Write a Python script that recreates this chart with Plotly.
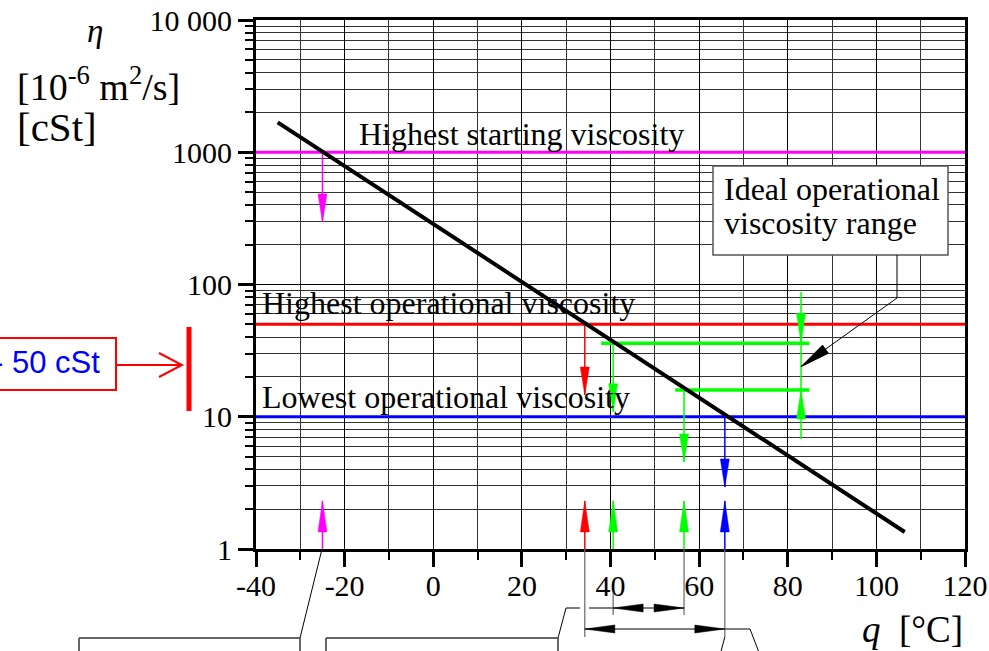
import math
import plotly.graph_objects as go

# ---------------- data ----------------
temp_range = [-40, 120]
temp_major_ticks = [-40, -20, 0, 20, 40, 60, 80, 100, 120]
temp_tick_labels = ["-40", "-20", "0", "20", "40", "60", "80", "100", "120"]
temp_minor_ticks = [-30, -10, 10, 30, 50, 70, 90, 110]

visc_major_ticks = [1, 10, 100, 1000, 10000]
visc_tick_labels = ["1", "10", "100", "1000", "10 000"]
visc_minor_ticks = [m * 10 ** d for d in range(4) for m in range(2, 10)]

curve_temp = [-35.1, 106.4]
curve_visc = [1684, 1.345]

limit_visc = [1000, 50, 10]
limit_names = ["Highest starting viscosity", "Highest operational viscosity",
               "Lowest operational viscosity"]
limit_colors = ["#ff00ff", "#ff0000", "#0000ff"]

ideal_visc = [35.9, 15.94]
ideal_temp_from = [37.9, 54.6]
ideal_temp_to = [84.9, 84.9]

drop_temp = [-25.0, 34.2, 40.6, 56.6, 65.8]
drop_from = [1000, 50, 35.9, 15.94, 10]
drop_tip = [297, 14.6, 10.9, 4.55, 2.94]
drop_colors = ["#ff00ff", "#ff0000", "#00ff00", "#00ff00", "#0000ff"]
rise_tip_visc = 2.31

range_marker_temp = 83.0
range_marker_span = [6.79, 87.7]

box_text = "10 - 50 cSt"

# ---------------- geometry helpers ----------------
W, H = 989, 651
PX_L, PX_R, PX_T, PX_B = 256, 965, 20, 549
DEG_PER_PX = (temp_range[1] - temp_range[0]) / (PX_R - PX_L)
DEC_PER_PX = 4 / (PX_B - PX_T)
GREEN = "#00ff00"
SERIF = "Liberation Serif"


def px_x(px):
    return (px - PX_L) / (PX_R - PX_L)


def px_y(py):
    return (PX_B - py) / (PX_B - PX_T)


def tx(t):
    return PX_L + (t - temp_range[0]) / DEG_PER_PX


def head(x, tip, direction, color, length=28, half=4.5):
    f = 10 ** (length * DEC_PER_PX)
    base = tip * f if direction < 0 else tip / f
    dx = half * DEG_PER_PX
    return go.Scatter(x=[x - dx, x + dx, x, x - dx], y=[base, base, tip, base],
                      fill="toself", fillcolor=color, mode="lines",
                      line=dict(color=color, width=0.5), hoverinfo="skip")


def seg(x, y, color, width):
    return go.Scatter(x=x, y=y, mode="lines", line=dict(color=color, width=width),
                      hoverinfo="skip")


fig = go.Figure()

# limit lines
for v, c in zip(limit_visc, limit_colors):
    fig.add_trace(seg(temp_range, [v, v], c, 3))

# ideal range lines
for v, t0, t1 in zip(ideal_visc, ideal_temp_from, ideal_temp_to):
    fig.add_trace(seg([t0, t1], [v, v], GREEN, 3.5))

# drop arrows (from intersection down) and rise arrows (from axis up)
for t, v0, v1, c in zip(drop_temp, drop_from, drop_tip, drop_colors):
    fig.add_trace(seg([t, t], [v0, v1], c, 1.5))
    fig.add_trace(head(t, v1, -1, c))
    fig.add_trace(seg([t, t], [1, rise_tip_visc], c, 1.5))
    fig.add_trace(head(t, rise_tip_visc, 1, c, length=31))

# ideal range marker
fig.add_trace(seg([range_marker_temp] * 2, range_marker_span, GREEN, 1.5))
fig.add_trace(head(range_marker_temp, ideal_visc[0], -1, GREEN, length=30))
fig.add_trace(head(range_marker_temp, ideal_visc[1], 1, GREEN, length=29))

# viscosity-temperature curve
fig.add_trace(seg(curve_temp, curve_visc, "black", 4))

shapes = []
annotations = []

# white backgrounds behind the limit labels (above grid, below data)
label_boxes = [(356, 119, 688, 150), (258, 287, 646, 319), (258, 386, 636, 414)]
for (x0, y0, x1, y1) in label_boxes:
    shapes.append(dict(type="rect", xref="paper", yref="paper", layer="between",
                       x0=px_x(x0), x1=px_x(x1), y0=px_y(y1), y1=px_y(y0),
                       fillcolor="white", line=dict(width=0)))

label_pos = [(357, 134.5), (260, 302.5), (260, 396.5)]
for name, (lx, ly) in zip(limit_names, label_pos):
    annotations.append(dict(text=name, xref="paper", yref="paper", x=px_x(lx), y=px_y(ly),
                            xanchor="left", yanchor="middle", showarrow=False,
                            font=dict(family=SERIF, size=32, color="black")))

# ideal range box
shapes.append(dict(type="rect", xref="paper", yref="paper", layer="above",
                   x0=px_x(713), x1=px_x(948), y0=px_y(255), y1=px_y(166),
                   fillcolor="white", line=dict(color="#555", width=1.5)))
for txt, ly in [("Ideal operational", 189.5), ("viscosity range", 222.5)]:
    annotations.append(dict(text=txt, xref="paper", yref="paper", x=px_x(722), y=px_y(ly),
                            xanchor="left", yanchor="middle", showarrow=False,
                            font=dict(family=SERIF, size=32, color="black")))

# leader from box to range marker
tip_px = tx(range_marker_temp)
tip_py = PX_B - math.log10(math.sqrt(ideal_visc[0] * ideal_visc[1])) / DEC_PER_PX
bend = (897, 298)
shapes.append(dict(type="path", xref="paper", yref="paper", layer="above",
                   path=f"M {px_x(897)},{px_y(255)} L {px_x(bend[0])},{px_y(bend[1])} "
                        f"L {px_x(tip_px)},{px_y(tip_py)}",
                   line=dict(color="black", width=1)))
dxp, dyp = bend[0] - tip_px, bend[1] - tip_py
nrm = math.hypot(dxp, dyp)
ux, uy = dxp / nrm, dyp / nrm
hl, hw = 30, 5
bx, by = tip_px + ux * hl, tip_py + uy * hl
p1 = (bx - uy * hw, by + ux * hw)
p2 = (bx + uy * hw, by - ux * hw)
shapes.append(dict(type="path", xref="paper", yref="paper", layer="above",
                   path=f"M {px_x(tip_px)},{px_y(tip_py)} L {px_x(p1[0])},{px_y(p1[1])} "
                        f"L {px_x(p2[0])},{px_y(p2[1])} Z",
                   fillcolor="black", line=dict(color="black", width=1)))

# left: red box with arrow and bar
shapes.append(dict(type="rect", xref="paper", yref="paper", x0=px_x(-20), x1=px_x(116),
                   y0=px_y(390), y1=px_y(338), line=dict(color="#ff0000", width=2)))
shapes.append(dict(type="line", xref="paper", yref="paper", x0=px_x(116), x1=px_x(181),
                   y0=px_y(365), y1=px_y(365), line=dict(color="#ff0000", width=2)))
shapes.append(dict(type="path", xref="paper", yref="paper",
                   path=f"M {px_x(159)},{px_y(353)} L {px_x(182)},{px_y(365)} L {px_x(159)},{px_y(377)}",
                   line=dict(color="#ff0000", width=2)))
shapes.append(dict(type="line", xref="paper", yref="paper", x0=px_x(189), x1=px_x(189),
                   y0=px_y(411), y1=px_y(327), line=dict(color="#ff0000", width=5)))
annotations.append(dict(text=box_text, xref="paper", yref="paper", x=px_x(102), y=px_y(362),
                        xanchor="right", yanchor="middle", showarrow=False,
                        font=dict(family="Liberation Sans", size=31, color="#0000ff")))

# left axis title
annotations.append(dict(text="<i>η</i>", xref="paper", yref="paper", x=px_x(95), y=px_y(31),
                        xanchor="center", yanchor="middle", showarrow=False,
                        font=dict(family=SERIF, size=33, color="black")))
annotations.append(dict(text="[10<sup>-6</sup> m<sup>2</sup>/s]", xref="paper", yref="paper",
                        x=px_x(15), y=px_y(84), xanchor="left", yanchor="middle",
                        showarrow=False, font=dict(family=SERIF, size=38, color="black")))
annotations.append(dict(text="[cSt]", xref="paper", yref="paper", x=px_x(15), y=px_y(127),
                        xanchor="left", yanchor="middle", showarrow=False,
                        font=dict(family=SERIF, size=41, color="black")))
# x axis title
annotations.append(dict(text="<i>q</i>\u00a0\u00a0[°C]", xref="paper", yref="paper",
                        x=px_x(965), y=px_y(629), xanchor="right", yanchor="middle",
                        showarrow=False, font=dict(family=SERIF, size=37, color="black")))

# bottom leaders and (cut-off) callout boxes
GRAY = "#666"


def pline(x0, y0, x1, y1, color="black", width=1):
    shapes.append(dict(type="line", xref="paper", yref="paper", x0=px_x(x0), x1=px_x(x1),
                       y0=px_y(y0), y1=px_y(y1), line=dict(color=color, width=width)))


# box 1 (starting temperature)
pline(79, 638, 300, 638, GRAY, 2)
pline(79, 638, 79, 660, GRAY, 2)
pline(300, 638, 300, 660, GRAY, 2)
pline(300, 638, 322, 549, "black", 1)
# box 2 (operational range)
pline(326, 638, 558, 638, GRAY, 2)
pline(326, 638, 326, 660, GRAY, 2)
pline(558, 638, 558, 660, GRAY, 2)
pline(558, 638, 566, 608, "black", 1)
pline(566, 608, 580, 608, "black", 1)
pline(589, 608, tx(drop_temp[2]), 608, "black", 1)

# extension lines below axis
pline(tx(drop_temp[1]), 549, tx(drop_temp[1]), 637, GRAY, 1.2)
pline(tx(drop_temp[4]), 549, tx(drop_temp[4]), 637, GRAY, 1.2)
pline(tx(drop_temp[2]), 593, tx(drop_temp[2]), 615, GRAY, 1.2)
pline(tx(drop_temp[3]), 549, tx(drop_temp[3]), 615, GRAY, 1.2)


def dim(xa, xb, y):
    pline(xa, y, xb, y, "black", 1)
    hl, hw = 30, 4
    for tip, d in [(xa, 1), (xb, -1)]:
        shapes.append(dict(type="path", xref="paper", yref="paper",
                           path=f"M {px_x(tip)},{px_y(y)} L {px_x(tip + d * hl)},{px_y(y - hw)} "
                                f"L {px_x(tip + d * hl)},{px_y(y + hw)} Z",
                           fillcolor="black", line=dict(color="black", width=0.5)))


dim(tx(drop_temp[2]), tx(drop_temp[3]), 608)
dim(tx(drop_temp[1]), tx(drop_temp[4]), 629)
pline(tx(drop_temp[4]), 629, 750, 629, "black", 1)
pline(750, 629, 760, 655, "black", 1)
pline(tx(drop_temp[4]), 637, 720, 655, "black", 1)

axis_common = dict(showline=True, linewidth=3, linecolor="black", mirror=True,
                   ticks="outside", ticklen=15, tickwidth=3, tickcolor="black",
                   showgrid=True, gridcolor="black", gridwidth=1, zeroline=False,
                   automargin=False,
                   tickfont=dict(family=SERIF, size=30, color="black"))

fig.update_layout(
    width=W, height=H,
    margin=dict(l=PX_L, r=W - PX_R, t=PX_T, b=H - PX_B, pad=0, autoexpand=False),
    paper_bgcolor="white", plot_bgcolor="white",
    showlegend=False,
    font=dict(family=SERIF, color="black"),
    xaxis=dict(range=temp_range, tickmode="array", tickvals=temp_major_ticks,
               ticktext=temp_tick_labels, ticklabelstandoff=-7,
               minor=dict(tickvals=temp_minor_ticks, ticks="outside", ticklen=8, tickwidth=2,
                          tickcolor="black", showgrid=True, gridcolor="#333", gridwidth=1),
               **axis_common),
    yaxis=dict(type="log", range=[0, 4], tickmode="array", tickvals=visc_major_ticks,
               ticktext=visc_tick_labels,
               minor=dict(tickvals=visc_minor_ticks, ticks="outside", ticklen=8, tickwidth=2,
                          tickcolor="black", showgrid=True, gridcolor="#333", gridwidth=1),
               **axis_common),
    shapes=shapes,
    annotations=annotations,
)

fig.write_html("out.html")
